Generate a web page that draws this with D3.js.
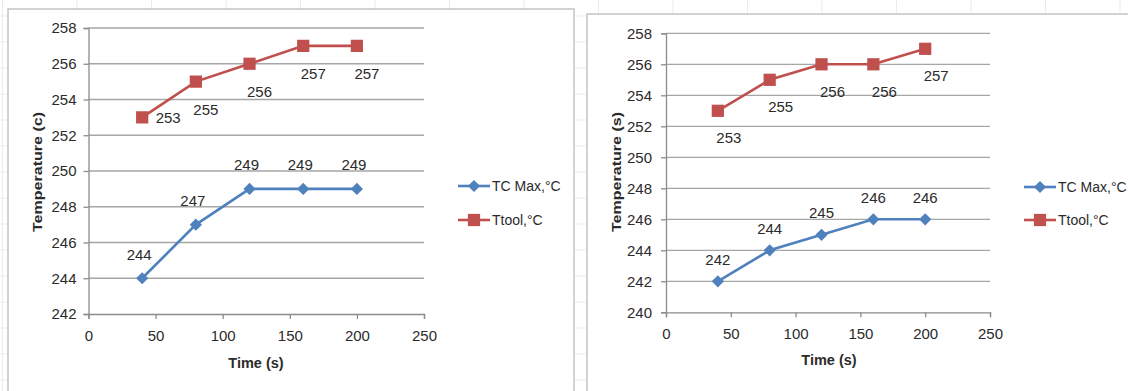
<!DOCTYPE html>
<html>
<head>
<meta charset="utf-8">
<script src="https://cdn.jsdelivr.net/npm/d3@7"></script>
<style>
  body { margin: 0; background: #fff; }
  svg { display: block; font-family: "Liberation Sans", Arial, sans-serif; }
</style>
</head>
<body>
<svg id="chart"></svg>
<script>
const width = 1128, height = 391;

// data
const times = [40, 80, 120, 160, 200];
const tcMaxLeft = [244, 247, 249, 249, 249];
const ttoolLeft = [253, 255, 256, 257, 257];
const tcMaxRight = [242, 244, 245, 246, 246];
const ttoolRight = [253, 255, 256, 256, 257];
const xTicks = [0, 50, 100, 150, 200, 250];
const yTicksLeft = [242, 244, 246, 248, 250, 252, 254, 256, 258];
const yTicksRight = [240, 242, 244, 246, 248, 250, 252, 254, 256, 258];
const seriesNames = ["TC Max,°C", "Ttool,°C"];

const blue = "#4f81bd", red = "#c0504d", textCol = "#2b2b2b";

const svg = d3.select("#chart").attr("width", width).attr("height", height);

// faint spreadsheet cells behind the charts
const bg = svg.append("g").attr("stroke", "#ebebeb").attr("stroke-width", 1);
d3.range(-1, 16).forEach(i => {
  const x = 77 + i * 74.5;
  bg.append("line").attr("x1", x).attr("x2", x).attr("y1", 0).attr("y2", height);
});
d3.range(0, 16).forEach(i => {
  const y = 16 + i * 26;
  bg.append("line").attr("x1", 0).attr("x2", width).attr("y1", y).attr("y2", y);
});

// chart frames
svg.append("rect").attr("x", 8).attr("y", 9).attr("width", 566).attr("height", 400)
  .attr("fill", "#fff").attr("stroke", "#c4c4c4").attr("stroke-width", 1.5);
svg.append("rect").attr("x", 587).attr("y", 14).attr("width", 560).attr("height", 400)
  .attr("fill", "#fff").attr("stroke", "#c4c4c4").attr("stroke-width", 1.5);

function marker(sel, si) {
  // diamond for TC Max, square for Ttool
  return sel.attr("d", d3.symbol().type(si === 0 ? d3.symbolDiamond2 : d3.symbolSquare).size(si === 0 ? 95 : 150));
}

function drawChart(cfg) {
  const g = svg.append("g");
  const x = d3.scaleLinear().domain([0, 250]).range([cfg.left, cfg.right]);
  const y = d3.scaleLinear().domain([cfg.yTicks[0], cfg.yTicks[cfg.yTicks.length - 1]])
    .range([cfg.bottom, cfg.top]);

  // horizontal gridlines
  g.selectAll(".grid").data(cfg.yTicks.slice(1)).join("line")
    .attr("x1", cfg.left).attr("x2", cfg.right)
    .attr("y1", d => y(d)).attr("y2", d => y(d))
    .attr("stroke", "#a6a6a6").attr("stroke-width", 1.3);

  // y axis
  const yAxis = g.append("g").attr("transform", `translate(${cfg.left},0)`)
    .call(d3.axisLeft(y).tickValues(cfg.yTicks).tickSize(5).tickPadding(cfg.yPad));
  // x axis
  const xAxis = g.append("g").attr("transform", `translate(0,${cfg.bottom})`)
    .call(d3.axisBottom(x).tickValues(xTicks).tickSize(5).tickPadding(11));
  [yAxis, xAxis].forEach(a => {
    a.attr("font-size", null).attr("font-family", null);
    a.select(".domain").attr("stroke", "#8c8c8c").attr("stroke-width", 1.3);
    a.selectAll(".tick line").attr("stroke", "#8c8c8c").attr("stroke-width", 1.3);
    a.selectAll(".tick text").attr("fill", textCol).attr("font-size", 15);
  });

  // axis titles
  g.append("text").attr("x", cfg.xTitleX).attr("y", cfg.xTitleY)
    .attr("text-anchor", "middle").attr("font-weight", "bold").attr("font-size", 14.5)
    .attr("fill", textCol).text("Time (s)");
  g.append("text").attr("transform", `translate(${cfg.yTitleX},172) rotate(-90)`)
    .attr("text-anchor", "middle").attr("dy", "0.35em")
    .attr("font-weight", "bold").attr("font-size", 13.5)
    .attr("textLength", 120).attr("lengthAdjust", "spacingAndGlyphs")
    .attr("fill", textCol).text(cfg.yTitle);

  const line = d3.line().x(d => x(d[0])).y(d => y(d[1]));
  const series = [
    { name: seriesNames[0], values: cfg.tc, color: blue },
    { name: seriesNames[1], values: cfg.tt, color: red }
  ];

  series.forEach((s, si) => {
    const pts = times.map((t, i) => [t, s.values[i]]);
    g.append("path").datum(pts).attr("d", line)
      .attr("fill", "none").attr("stroke", s.color).attr("stroke-width", 2.6);
    g.selectAll(null).data(pts).join("path")
      .attr("transform", d => `translate(${x(d[0])},${y(d[1])})`)
      .call(marker, si)
      .attr("fill", s.color);
    // data labels
    g.selectAll(null).data(pts).join("text")
      .attr("x", (d, i) => x(d[0]) + cfg.labelOffset(si, i)[0])
      .attr("y", (d, i) => y(d[1]) + cfg.labelOffset(si, i)[1])
      .attr("dy", "0.35em").attr("text-anchor", "middle")
      .attr("font-size", 15).attr("fill", textCol)
      .text(d => d[1]);

    // legend
    const ly = cfg.legendY[si];
    g.append("line").attr("x1", cfg.legendX).attr("x2", cfg.legendX + 32)
      .attr("y1", ly).attr("y2", ly).attr("stroke", s.color).attr("stroke-width", 2.6);
    g.append("path")
      .attr("transform", `translate(${cfg.legendX + 16},${ly})`)
      .call(marker, si)
      .attr("fill", s.color);
    g.append("text").attr("x", cfg.legendX + 34).attr("y", ly).attr("dy", "0.35em")
      .attr("font-size", 14).attr("fill", textCol).text(s.name);
  });
}

drawChart({
  left: 88.5, right: 424, top: 28, bottom: 314,
  yTicks: yTicksLeft, yPad: 7,
  tc: tcMaxLeft, tt: ttoolLeft,
  yTitle: "Temperature (c)", yTitleX: 37,
  xTitleX: 256, xTitleY: 368,
  legendX: 458, legendY: [186, 220],
  labelOffset: (s, i) => s === 0 ? [-3, -24] : (i === 0 ? [26, 0] : [10, 28])
});

drawChart({
  left: 666, right: 990, top: 33.3, bottom: 312.3,
  yTicks: yTicksRight, yPad: 9,
  tc: tcMaxRight, tt: ttoolRight,
  yTitle: "Temperature (s)", yTitleX: 616,
  xTitleX: 829, xTitleY: 365,
  legendX: 1024, legendY: [187, 220],
  labelOffset: (s, i) => s === 0 ? [0, -22] : [11, 27]
});
</script>
</body>
</html>
